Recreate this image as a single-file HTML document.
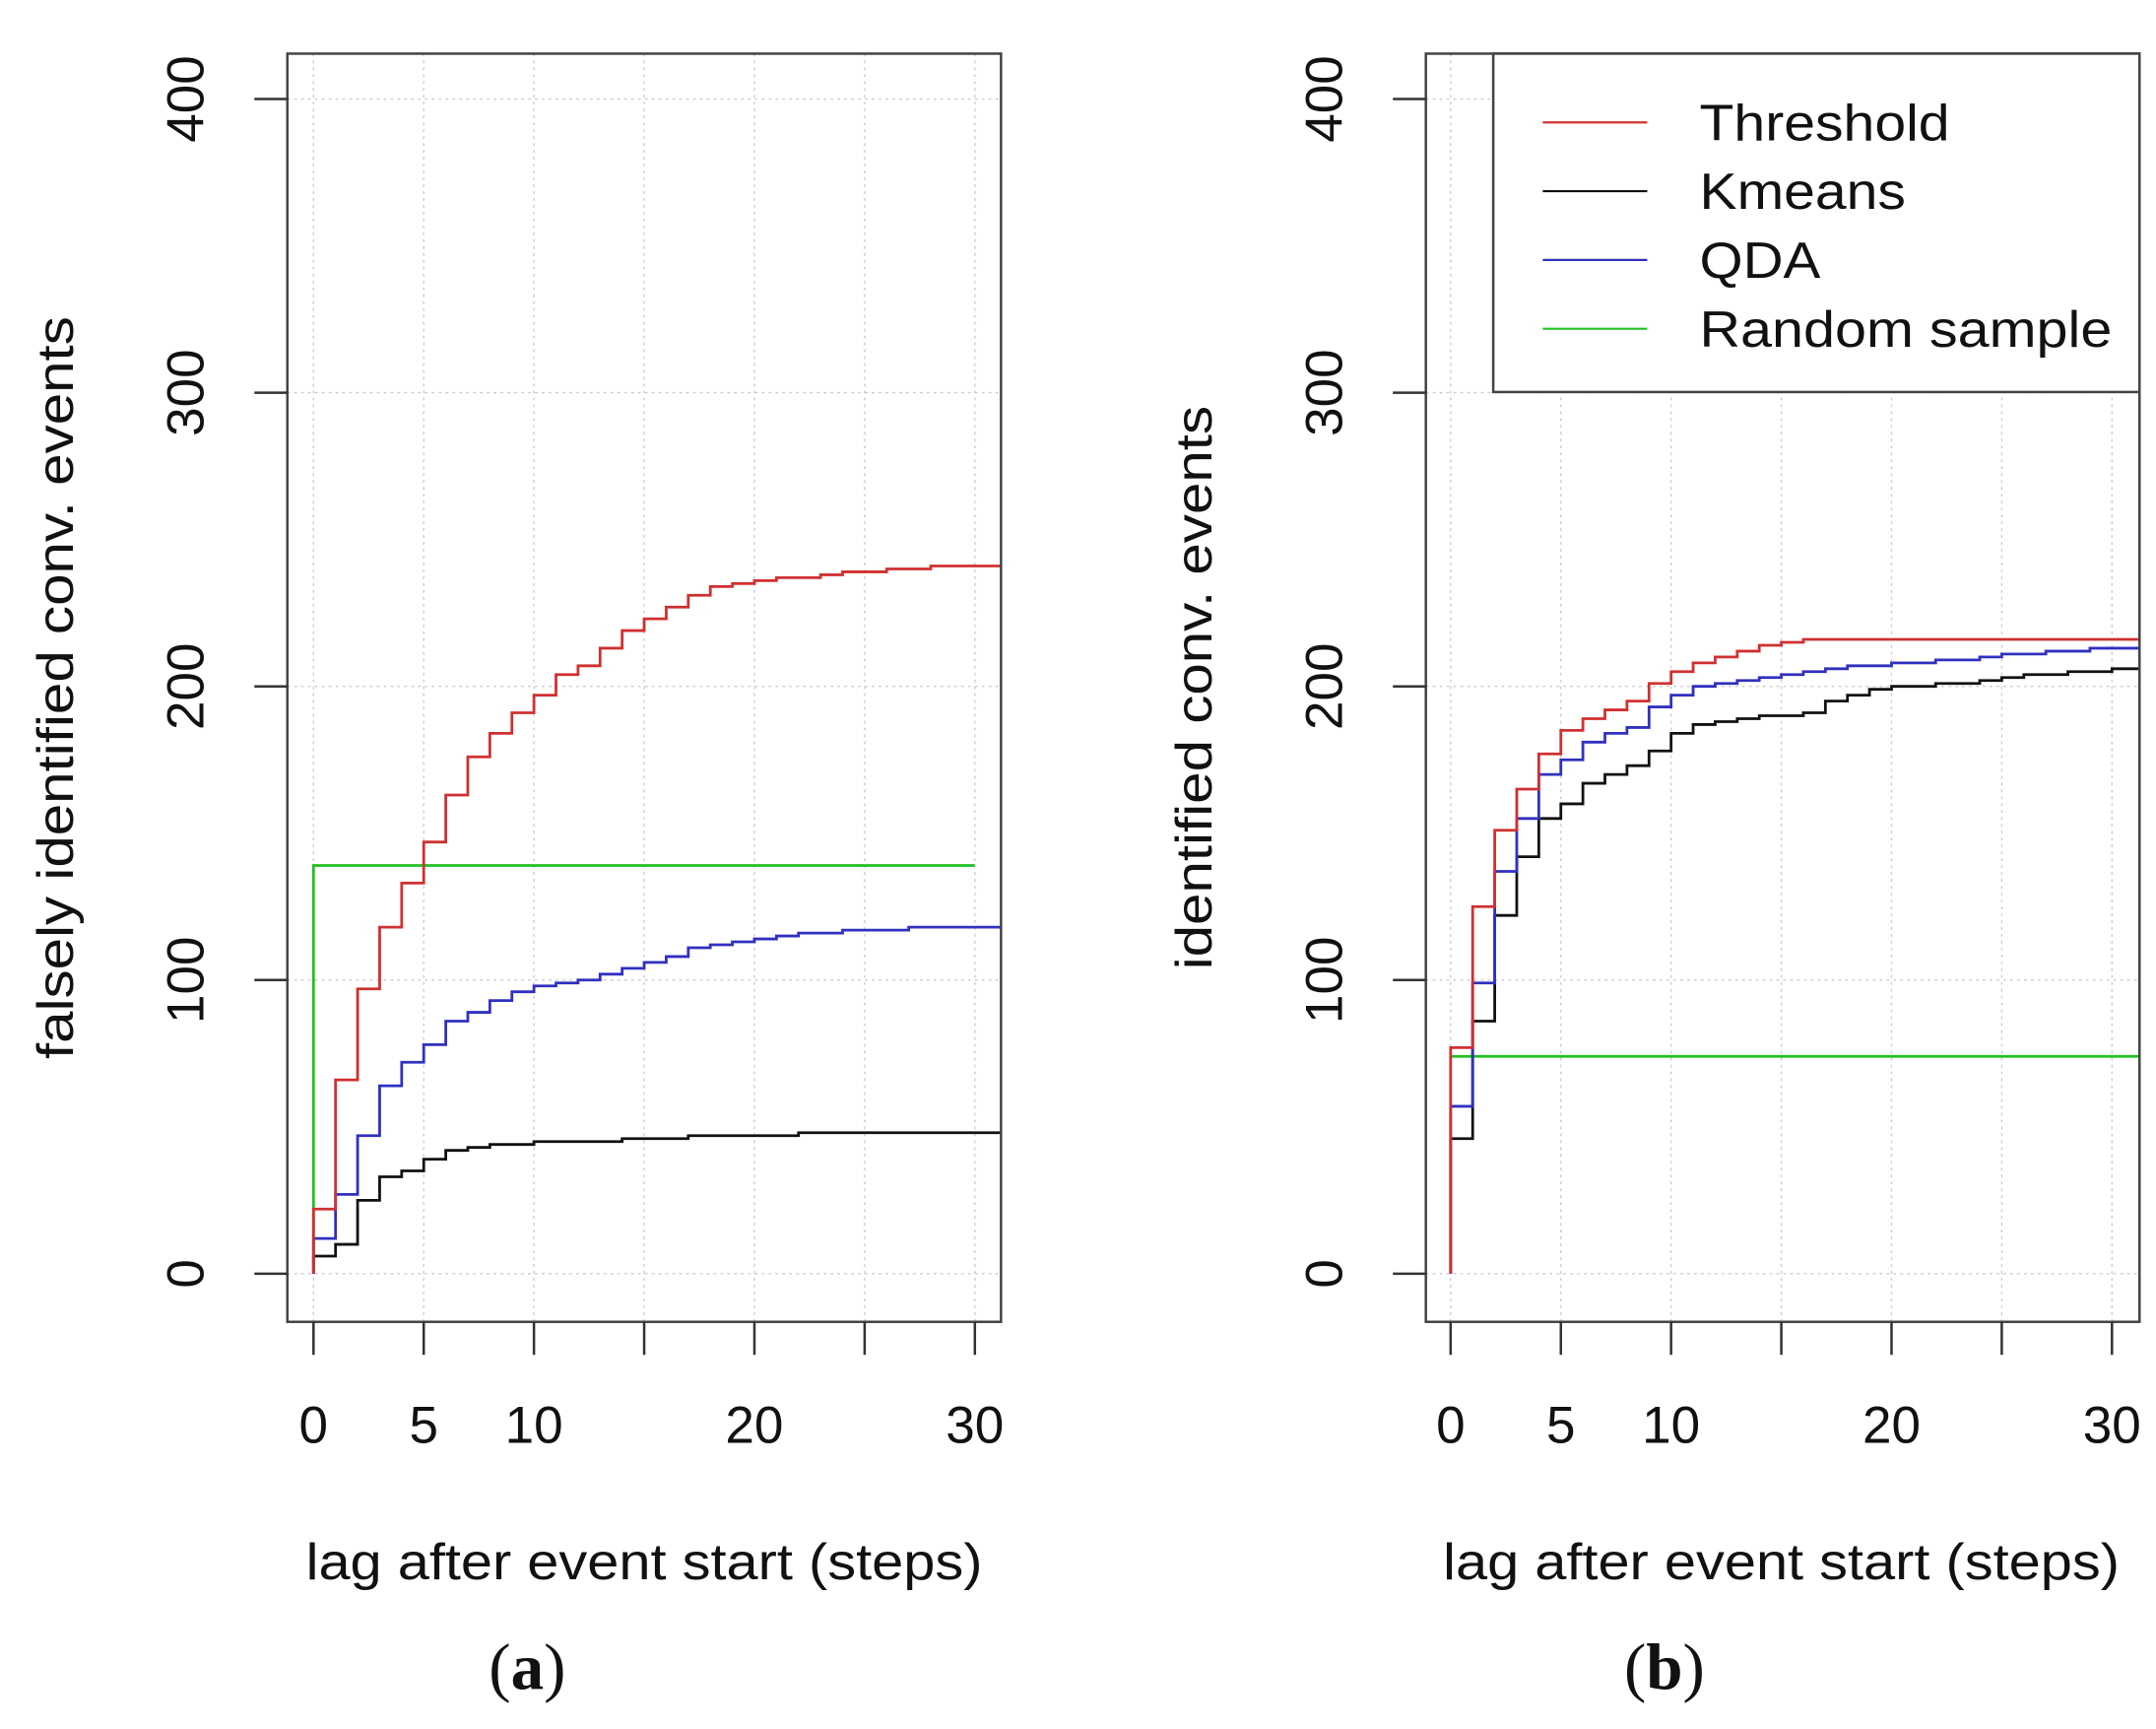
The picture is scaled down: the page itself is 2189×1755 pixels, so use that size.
<!DOCTYPE html>
<html><head><meta charset="utf-8"><style>
html,body{margin:0;padding:0;background:#fff;}
svg{display:block;}
text{font-family:"Liberation Sans",sans-serif;fill:#111;}
text.serif{font-family:"Liberation Serif",serif;}
</style></head><body>
<svg id="chart" width="2189" height="1755" viewBox="0 0 1568 1257" preserveAspectRatio="none" xmlns="http://www.w3.org/2000/svg">
<defs>
<clipPath id="clipA"><rect x="209" y="39" width="519" height="922"/></clipPath>
<clipPath id="clipB"><rect x="1037" y="39" width="519" height="922"/></clipPath>
</defs>
<g id="panelA"></g>
<g id="panelB"></g>
</svg>
<script>
const lags = [0,1,2,3,4,5,6,7,8,9,10,11,12,13,14,15,16,17,18,19,20,21,22,23,24,25,26,27,28,29,30,31];
const xTicks = [0,5,10,15,20,25,30];
const xTickLabels = ["0","5","10","","20","","30"];
const yTicks = [0,100,200,300,400];
const yTickLabels = ["0","100","200","300","400"];
const seriesNames = ["Threshold","Kmeans","QDA","Random sample"];
const seriesColors = ["#d03030","#111111","#3030c0","#22c022"];
const aThreshold = [22,66,97,118,133,147,163,176,184,191,197,204,207,213,219,223,227,231,234,235,236,237,237,238,239,239,240,240,241,241,241,241];
const aKmeans = [6,10,25,33,35,39,42,43,44,44,45,45,45,45,46,46,46,47,47,47,47,47,48,48,48,48,48,48,48,48,48,48];
const aQDA = [12,27,47,64,72,78,86,89,93,96,98,99,100,102,104,106,108,111,112,113,114,115,116,116,117,117,117,118,118,118,118,118];
const aRandom = 139;
const aRandomEnd = 30;
const bThreshold = [77,125,151,165,177,185,189,192,195,201,205,208,210,212,214,215,216,216,216,216,216,216,216,216,216,216,216,216,216,216,216,216];
const bKmeans = [46,86,122,142,155,160,167,170,173,178,184,187,188,189,190,190,191,195,197,199,200,200,201,201,202,203,204,204,205,205,206,206];
const bQDA = [57,99,137,155,170,175,181,184,186,193,197,200,201,202,203,204,205,206,207,207,208,208,209,209,210,211,211,212,212,213,213,213];
const bRandom = 74;
const bRandomEnd = 32;

const NS="http://www.w3.org/2000/svg";
function mk(tag,attrs,parent){const e=document.createElementNS(NS,tag);for(const k in attrs)e.setAttribute(k,attrs[k]);parent.appendChild(e);return e;}
function yS(v){return 926-(v/400)*854;}

function panel(g,left,x0,clip,ytitle,ytLen,label,series,rnd,rndEnd,rndFromZero){
  const xS=v=>x0+v*16.033;
  const right=left+519;
  xTicks.forEach(t=>{const l=mk('line',{x1:xS(t),x2:xS(t),y1:39,y2:961,stroke:'#ccc','stroke-width':1,'stroke-dasharray':'2,3'},g);
    
    });
  yTicks.forEach(t=>{const l=mk('line',{x1:left,x2:right,y1:yS(t),y2:yS(t),stroke:'#ccc','stroke-width':1,'stroke-dasharray':'2,3'},g);
    
    });
  let rd=(rndFromZero?'M'+xS(0)+','+yS(0)+' V'+yS(rnd):'M'+xS(0)+','+yS(rnd))+' H'+xS(rndEnd);
  const rp=mk('path',{d:rd,fill:'none',stroke:seriesColors[3],'stroke-width':2,'clip-path':'url(#'+clip+')'},g);
  
  
  [1,2,0].forEach(i=>{
    const vals=series[i];
    let d='M'+xS(0)+','+yS(0)+' V'+yS(vals[0]);
    for(let k=1;k<vals.length;k++){d+=' H'+xS(lags[k])+' V'+yS(vals[k]);}
    d+=' H'+xS(lags[lags.length-1]+1);
    const p=mk('path',{d:d,fill:'none',stroke:seriesColors[i],'stroke-width':2,'clip-path':'url(#'+clip+')'},g);
    
    
  });
  const b=mk('rect',{x:left,y:39,width:519,height:922,fill:'none',stroke:'#444','stroke-width':1.8},g);
  
  
  xTicks.forEach((t,i)=>{const l=mk('line',{x1:xS(t),x2:xS(t),y1:961,y2:985,stroke:'#333','stroke-width':1.8},g);
    
    
    if(xTickLabels[i]){const tx=mk('text',{x:xS(t),y:1049,'text-anchor':'middle','font-size':38},g);tx.textContent=xTickLabels[i];
      
      }});
  yTicks.forEach((t,i)=>{const l=mk('line',{x1:left-24,x2:left,y1:yS(t),y2:yS(t),stroke:'#333','stroke-width':1.8},g);
    
    
    const tx=mk('text',{x:0,y:0,'text-anchor':'middle','font-size':38,transform:'translate('+(left-61)+','+yS(t)+') rotate(-90)'},g);tx.textContent=yTickLabels[i];
    
    });
  const xt=mk('text',{x:(x0+xS(30))/2,y:1148,'text-anchor':'middle','font-size':37,textLength:492,lengthAdjust:'spacingAndGlyphs'},g);xt.textContent='lag after event start (steps)';
  
  
  const yt=mk('text',{x:0,y:0,'text-anchor':'middle','font-size':37,textLength:ytLen,lengthAdjust:'spacingAndGlyphs',transform:'translate('+(left-156)+',500) rotate(-90)'},g);yt.textContent=ytitle;
  
  
  const pl=mk('text',{x:(x0+xS(30))/2-85,y:1228,'text-anchor':'middle','font-size':48,'class':'serif'},g);
  pl.innerHTML='(<tspan font-weight="bold">'+label+'</tspan>)';
  
  
}
panel(document.getElementById('panelA'),209,228,'clipA','falsely identified conv. events',540,'a',[aThreshold,aKmeans,aQDA],aRandom,aRandomEnd,true);
panel(document.getElementById('panelB'),1037,1055,'clipB','identified conv. events',410,'b',[bThreshold,bKmeans,bQDA],bRandom,bRandomEnd,false);

const gB=document.getElementById('panelB');
const lg=mk('g',{},gB);


mk('rect',{x:1086,y:39,width:470,height:246,fill:'#fff',stroke:'#444','stroke-width':1.8},lg);
const legLens=[182,150,88,300];
seriesNames.forEach((n,i)=>{
  const y=89+i*50;
  const l=mk('line',{x1:1122,x2:1198,y1:y,y2:y,stroke:seriesColors[i],'stroke-width':1.6},lg);
  
  
  const t=mk('text',{x:1236,y:y+13,'font-size':37,textLength:legLens[i],lengthAdjust:'spacingAndGlyphs'},lg);t.textContent=n;
  
  
});
</script>
</body></html>
